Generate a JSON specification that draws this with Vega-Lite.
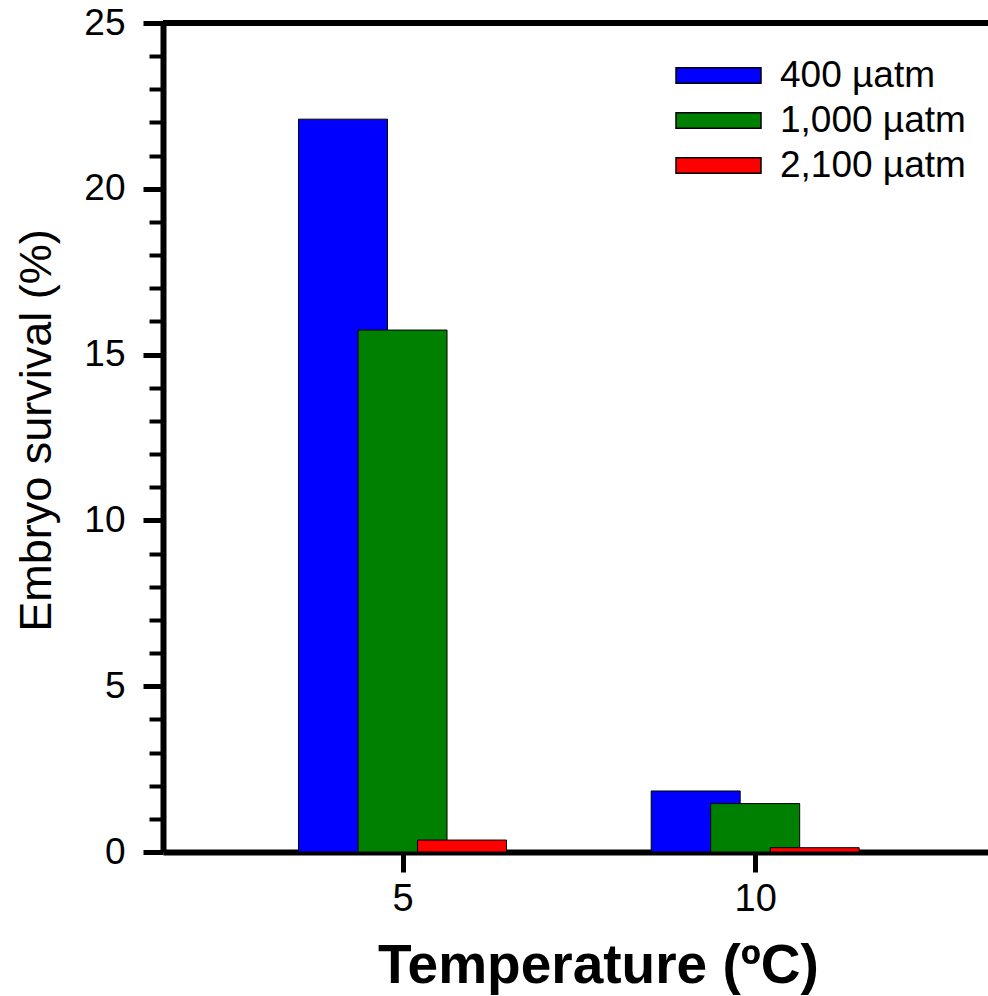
{
  "$schema": "https://vega.github.io/schema/vega-lite/v6.json",
  "autosize": "none",
  "width": 825,
  "height": 829,
  "padding": {"left": 163, "top": 23, "right": 0, "bottom": 144},
  "background": "white",
  "config": {
    "view": {"stroke": null},
    "font": "Liberation Sans"
  },
  "data": {
    "values": [
      {"temp": 5, "co2": "400 µatm", "survival": 22.1},
      {"temp": 5, "co2": "1,000 µatm", "survival": 15.74},
      {"temp": 5, "co2": "2,100 µatm", "survival": 0.36},
      {"temp": 10, "co2": "400 µatm", "survival": 1.84},
      {"temp": 10, "co2": "1,000 µatm", "survival": 1.46},
      {"temp": 10, "co2": "2,100 µatm", "survival": 0.13}
    ]
  },
  "encoding": {
    "x": {
      "field": "temp",
      "type": "quantitative",
      "scale": {"domain": [1.675, 13.23], "nice": false, "zero": false},
      "axis": {
        "values": [5, 10],
        "grid": false,
        "domainColor": "black",
        "domainWidth": 6,
        "tickColor": "black",
        "tickWidth": 5,
        "tickSize": 20,
        "labelFontSize": 38,
        "labelColor": "black",
        "labelPadding": 8,
        "title": "Temperature (ºC)",
        "titleFontSize": 55,
        "titleFontWeight": "bold",
        "titleColor": "black",
        "titleX": 435,
        "titleY": 130,
        "titleBaseline": "alphabetic",
        "titleAlign": "center"
      }
    },
    "y": {
      "field": "survival",
      "type": "quantitative",
      "scale": {"domain": [0, 25], "nice": false},
      "axis": {
        "values": [0,1,2,3,4,5,6,7,8,9,10,11,12,13,14,15,16,17,18,19,20,21,22,23,24,25],
        "labelExpr": "datum.value % 5 === 0 ? datum.label : ''",
        "grid": false,
        "domainColor": "black",
        "domainWidth": 6,
        "tickColor": "black",
        "tickSize": {"condition": {"test": "datum.value % 5 === 0", "value": 20}, "value": 14},
        "tickWidth": {"condition": {"test": "datum.value % 5 === 0", "value": 5}, "value": 4},
        "labelFontSize": 37,
        "labelColor": "black",
        "labelPadding": 18,
        "title": "Embryo survival (%)",
        "titleFontSize": 45,
        "titleFontWeight": "normal",
        "titleColor": "black",
        "titleAngle": -90,
        "titleX": -113,
        "titleY": 407,
        "titleBaseline": "alphabetic",
        "titleAlign": "center"
      }
    },
    "color": {
      "field": "co2",
      "type": "nominal",
      "scale": {
        "domain": ["400 µatm", "1,000 µatm", "2,100 µatm"],
        "range": ["#0000ff", "#008000", "#ff0000"]
      },
      "legend": {
        "title": null,
        "orient": "none",
        "legendX": 537,
        "legendY": 34,
        "symbolType": "M-4.25,-0.78H4.25V0.78H-4.25Z",
        "symbolSize": 400,
        "symbolStrokeColor": "black",
        "symbolStrokeWidth": 1.5,
        "symbolOpacity": 1,
        "labelFontSize": 37,
        "labelColor": "black",
        "labelOffset": 43,
        "labelLimit": 0,
        "rowPadding": 7
      }
    }
  },
  "layer": [
    {
      "transform": [{"filter": "datum.co2 === '400 µatm'"}],
      "mark": {"type": "bar", "width": 89, "xOffset": -59.5, "stroke": "black", "strokeWidth": 1, "opacity": 1}
    },
    {
      "transform": [{"filter": "datum.co2 === '1,000 µatm'"}],
      "mark": {"type": "bar", "width": 89, "xOffset": 0, "stroke": "black", "strokeWidth": 1, "opacity": 1}
    },
    {
      "transform": [{"filter": "datum.co2 === '2,100 µatm'"}],
      "mark": {"type": "bar", "width": 89, "xOffset": 59.5, "stroke": "black", "strokeWidth": 1, "opacity": 1}
    },
    {
      "mark": {"type": "rule", "color": "black", "strokeWidth": 6},
      "encoding": {"y": {"datum": 25}, "x": null, "color": null}
    }
  ]
}
